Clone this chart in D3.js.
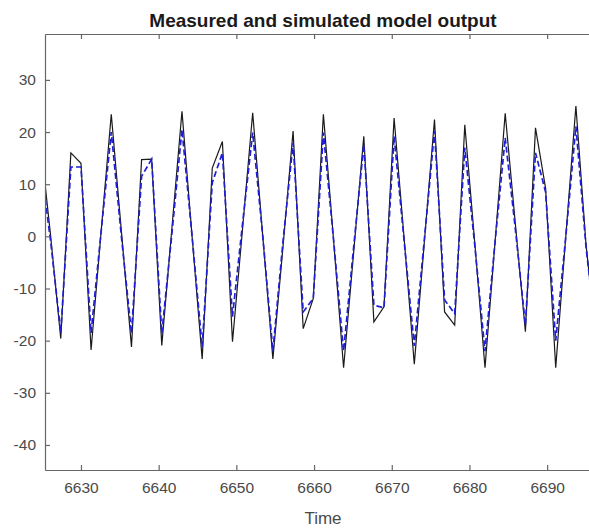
<!DOCTYPE html>
<html>
<head>
<meta charset="utf-8">
<script src="https://cdn.jsdelivr.net/npm/d3@7"></script>
<style>
    body { margin: 0; background: #fff; }
    svg { display: block; font-family: "Liberation Sans", Arial, sans-serif; }
</style>
</head>
<body>
<div id="chart"></div>
<script>
// sample times (uniform step of about 1.3)
const timeValues = [
    6624.8, 6626.1, 6627.4, 6628.7, 6630.0, 6631.3, 6632.6, 6633.9, 6635.2, 6636.5,
    6637.8, 6639.1, 6640.4, 6641.7, 6643.0, 6644.3, 6645.6, 6646.9, 6648.2, 6649.5,
    6650.8, 6652.1, 6653.4, 6654.7, 6656.0, 6657.3, 6658.6, 6659.9, 6661.2, 6662.5,
    6663.8, 6665.1, 6666.4, 6667.7, 6669.0, 6670.3, 6671.6, 6672.9, 6674.2, 6675.5,
    6676.8, 6678.1, 6679.4, 6680.7, 6682.0, 6683.3, 6684.6, 6685.9, 6687.2, 6688.5,
    6689.8, 6691.1, 6692.4, 6693.7, 6695.0, 6696.3
];

// measured output (black solid)
const measuredValues = [
    18, 0, -19.6, 16.0, 14.0, -21.8, 1, 23.4, 1, -21.2,
    14.7, 14.8, -20.9, 1.5, 24.0, 0, -23.5, 13.1, 18.2, -20.2,
    1.5, 23.7, 0, -23.5, -2, 20.2, -17.7, -11.9, 23.4, -0.5,
    -25.2, -3, 19.2, -16.4, -13.5, 22.7, -0.5, -24.5, -1, 22.4,
    -14.5, -17.0, 21.4, -1.5, -25.2, -1, 23.6, 2.5, -18.3, 20.8,
    9.2, -25.2, 0, 25.0, -1.5, -20
];

// simulated model output (blue dashed)
const simulatedValues = [
    14, -1, -18.5, 13.3, 13.3, -18.5, 1, 20.0, 0, -18.6,
    11.5, 14.8, -18.6, 0.5, 20.5, 0, -21.2, 10.3, 16.0, -15.4,
    2.5, 19.9, 0, -22, -1, 17.9, -14.5, -11.9, 19.9, -0.5,
    -22, -2, 17.6, -13.2, -13.7, 19.2, -1, -21, -0.5, 20.2,
    -12.2, -14.8, 17.0, -2, -22, -1, 18.9, 1.5, -17, 16.0,
    8.5, -20, 0, 21.1, -2, -19
];

const xTickValues = [6630, 6640, 6650, 6660, 6670, 6680, 6690];
const yTickValues = [-40, -30, -20, -10, 0, 10, 20, 30];

const chartTitle = 'Measured and simulated model output';
const xLabel = 'Time';

function drawChart() {
    const width = 589, height = 529;
    const left = 45, right = 601, top = 34, bottom = 470;

    const svg = d3.select('#chart').append('svg')
        .attr('width', width)
        .attr('height', height);

    const x = d3.scaleLinear().domain([6625.37, 6696.93]).range([left, right]);
    const y = d3.scaleLinear().domain([-44.8, 38.8]).range([bottom, top]);

    // plain integer labels with ascii minus
    const plainFormat = d => String(d);

    // clip lines to the axes box
    svg.append('clipPath').attr('id', 'plotClip')
        .append('rect')
        .attr('x', left).attr('y', top)
        .attr('width', right - left).attr('height', bottom - top);

    const lineGroup = svg.append('g').attr('clip-path', 'url(#plotClip)');

    const measured = timeValues.map((t, i) => ({ t, v: measuredValues[i] }));
    const simulated = timeValues.map((t, i) => ({ t, v: simulatedValues[i] }));

    const line = d3.line().x(d => x(d.t)).y(d => y(d.v));

    lineGroup.append('path')
        .datum(measured)
        .attr('fill', 'none')
        .attr('stroke', '#1a1a1a')
        .attr('stroke-width', 1.2)
        .attr('d', line);

    lineGroup.append('path')
        .datum(simulated)
        .attr('fill', 'none')
        .attr('stroke', '#1f1fd6')
        .attr('stroke-width', 1.7)
        .attr('stroke-dasharray', '6,3')
        .attr('d', line);

    const axisColor = '#666';
    const textColor = '#4a4a4a';

    // bottom axis (ticks point inward)
    const xAxis = svg.append('g')
        .attr('transform', `translate(0,${bottom})`)
        .call(d3.axisBottom(x).tickValues(xTickValues).tickFormat(plainFormat)
            .tickSizeInner(-5).tickSizeOuter(0).tickPadding(12));

    // top axis with ticks only
    const xAxisTop = svg.append('g')
        .attr('transform', `translate(0,${top})`)
        .call(d3.axisTop(x).tickValues(xTickValues).tickSizeInner(-5).tickSizeOuter(0).tickFormat(''));

    // left axis
    const yAxis = svg.append('g')
        .attr('transform', `translate(${left},0)`)
        .call(d3.axisLeft(y).tickValues(yTickValues).tickFormat(plainFormat)
            .tickSizeInner(-5).tickSizeOuter(0).tickPadding(9));

    [xAxis, xAxisTop, yAxis].forEach(a => {
        a.select('.domain').attr('stroke', axisColor).attr('stroke-width', 1.2);
        a.selectAll('.tick line').attr('stroke', axisColor).attr('stroke-width', 1.2);
        a.selectAll('.tick text')
            .attr('fill', textColor)
            .attr('font-size', '15.5px')
            .attr('font-family', '"Liberation Sans", Arial, sans-serif');
    });

    // title
    svg.append('text')
        .attr('x', (left + right) / 2)
        .attr('y', 27)
        .attr('text-anchor', 'middle')
        .attr('font-size', '19px')
        .attr('font-weight', 'bold')
        .attr('fill', '#1a1a1a')
        .text(chartTitle);

    // x label
    svg.append('text')
        .attr('x', (left + right) / 2)
        .attr('y', 524)
        .attr('text-anchor', 'middle')
        .attr('font-size', '17px')
        .attr('fill', textColor)
        .text(xLabel);
}

drawChart();
</script>
</body>
</html>
